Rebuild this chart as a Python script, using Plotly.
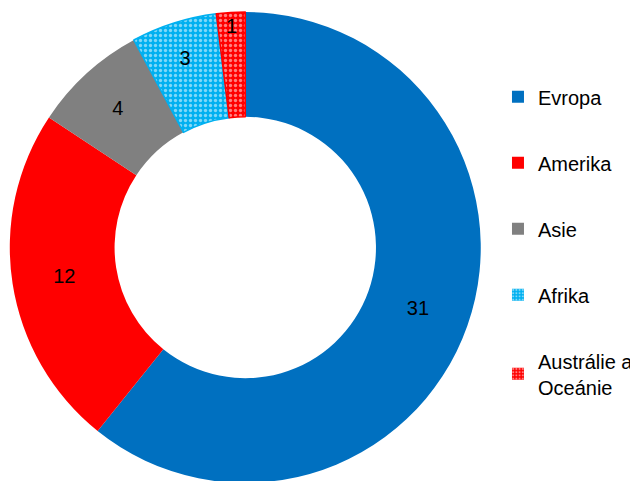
import plotly.graph_objects as go

labels = ["Evropa", "Amerika", "Asie", "Afrika", "Austrálie a<br>Oceánie"]
values = [31, 12, 4, 3, 1]
colors = ["#0070C0", "#FF0000", "#808080", "#00B0F0", "#FF0000"]
patterns = ["", "", "", ".", "."]

FONT = "Liberation Sans, Arial"

fig = go.Figure()
fig.add_trace(go.Pie(
    labels=labels, values=values, hole=0.555, sort=False, direction="clockwise",
    rotation=0, textinfo="value", textposition="inside", insidetextorientation="horizontal",
    textfont=dict(family=FONT, size=20, color="black"),
    marker=dict(colors=colors,
                pattern=dict(shape=patterns, fgcolor="white", solidity=0.35, size=5, fillmode="overlay"),
                line=dict(color=colors, width=[0, 0, 0, 1.5, 1.5])),
    domain=dict(x=[0.0028, 0.741], y=[0.0125, 0.9917]),
    showlegend=False, hoverinfo="label+value",
))

for i, (lab, col, pat) in enumerate(zip(labels, colors, patterns)):
    fig.add_trace(go.Bar(
        x=[None], y=[None], name=lab, legendgroup=f"g{i}",
        marker=dict(color=col, pattern=dict(shape=pat, fgcolor="white", solidity=0.35, size=4, fillmode="overlay"),
                    line=dict(width=0)),
        showlegend=True,
    ))

fig.update_layout(
    width=638, height=481,
    margin=dict(l=0, r=0, t=0, b=0, autoexpand=False),
    paper_bgcolor="white", plot_bgcolor="white",
    xaxis=dict(visible=False, domain=[0.99, 1.0]),
    yaxis=dict(visible=False, domain=[0.99, 1.0]),
    legend=dict(x=0.768, y=0.856, xanchor="left", yanchor="top",
                font=dict(family=FONT, size=20, color="black"),
                tracegroupgap=37, itemwidth=30, bgcolor="rgba(0,0,0,0)"),
    showlegend=True,
)

fig.write_html("out.html")
